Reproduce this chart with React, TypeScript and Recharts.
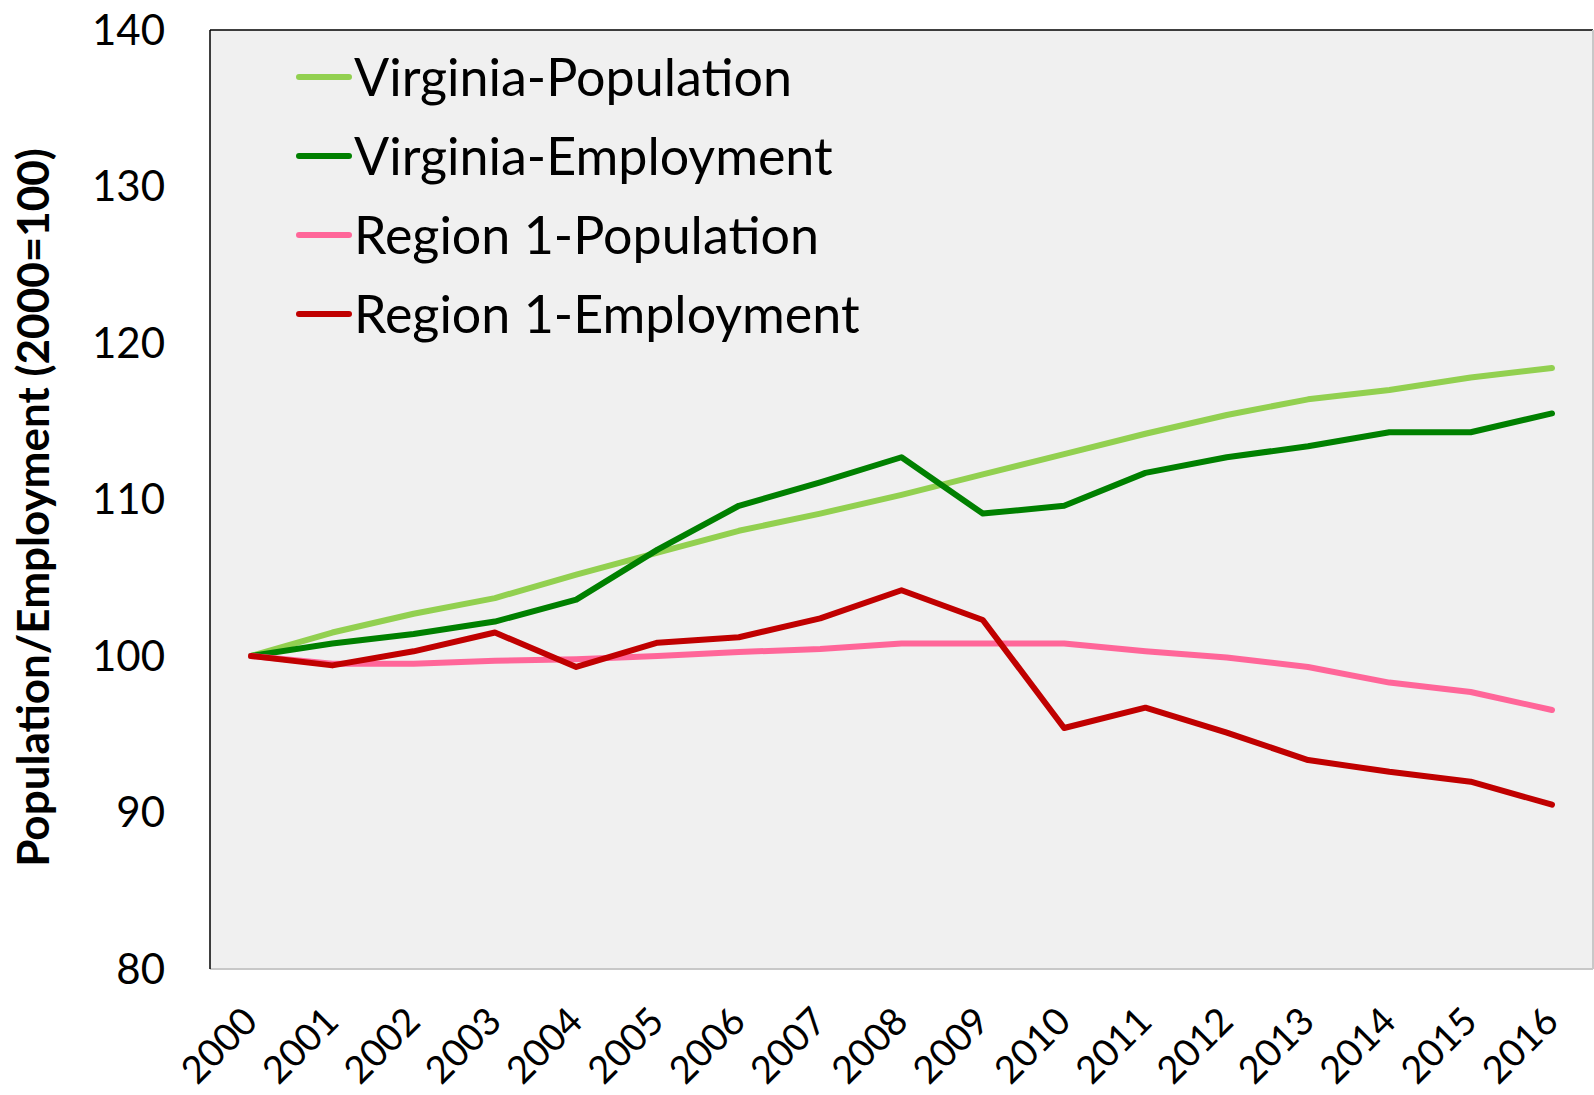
import React from "react";
import {
  LineChart,
  Line,
  XAxis,
  YAxis,
  CartesianGrid,
  Legend,
  ReferenceLine,
} from "recharts";

const years = [
  "2000", "2001", "2002", "2003", "2004", "2005", "2006", "2007", "2008",
  "2009", "2010", "2011", "2012", "2013", "2014", "2015", "2016",
];
const virginiaPopulation = [
  100, 101.5, 102.7, 103.7, 105.2, 106.6, 108.0, 109.1, 110.3, 111.6, 112.9,
  114.2, 115.4, 116.4, 117.0, 117.8, 118.4,
];
const virginiaEmployment = [
  100, 100.8, 101.4, 102.2, 103.6, 106.8, 109.6, 111.1, 112.7, 109.1, 109.6,
  111.7, 112.7, 113.4, 114.3, 114.3, 115.5,
];
const region1Population = [
  100, 99.5, 99.5, 99.7, 99.8, 100.0, 100.25, 100.45, 100.8, 100.8, 100.8,
  100.3, 99.9, 99.3, 98.3, 97.7, 96.55,
];
const region1Employment = [
  100, 99.4, 100.3, 101.5, 99.3, 100.85, 101.2, 102.4, 104.2, 102.3, 95.4,
  96.7, 95.1, 93.35, 92.6, 91.97, 90.5,
];
const yTicks = [80, 90, 100, 110, 120, 130, 140];

const series = [
  { key: "vaPop", name: "Virginia-Population", color: "#92d050" },
  { key: "vaEmp", name: "Virginia-Employment", color: "#008000" },
  { key: "r1Pop", name: "Region 1-Population", color: "#ff6699" },
  { key: "r1Emp", name: "Region 1-Employment", color: "#c00000" },
];

const data = years.map((year, i) => ({
  year,
  vaPop: virginiaPopulation[i],
  vaEmp: virginiaEmployment[i],
  r1Pop: region1Population[i],
  r1Emp: region1Employment[i],
}));

const FONT = "Lato, 'Open Sans', sans-serif";

const XTick = (props: any) => {
  const { x, y, payload } = props;
  return (
    <g transform={`translate(${x - 2},${y + 36})`}>
      <text
        textAnchor="end"
        dominantBaseline="central"
        transform="rotate(-45)"
        fontSize={38}
        fontFamily={FONT}
        fill="#000"
      >
        {payload.value}
      </text>
    </g>
  );
};

const LegendBox = () => (
  <div style={{ fontFamily: FONT, fontSize: 52, color: "#000", marginTop: -3 }}>
    {series.map((s) => (
      <div
        key={s.key}
        style={{ display: "flex", alignItems: "center", height: 79 }}
      >
        <svg width={56} height={10} style={{ marginLeft: 60, marginRight: 2 }}>
          <line
            x1={3}
            y1={5}
            x2={53}
            y2={5}
            stroke={s.color}
            strokeWidth={6}
            strokeLinecap="round"
          />
        </svg>
        <span style={{ lineHeight: "79px" }}>{s.name}</span>
      </div>
    ))}
  </div>
);

export default function App() {
  return (
    <div style={{ position: "absolute", left: 0, top: 0, background: "#fff" }}>
      <LineChart
        width={1594}
        height={1095}
        data={data}
        margin={{ top: 30, right: 0, bottom: 0, left: 0 }}
      >
        <CartesianGrid
          vertical={false}
          fill="#f0f0f0"
          stroke="#a6a6a6"
          strokeWidth={1.5}
          horizontalValues={[90, 100, 110, 120, 130]}
        />
        <XAxis
          dataKey="year"
          height={126}
          padding={{ left: 41, right: 41 }}
          tickLine={false}
          axisLine={{ stroke: "#c8c8c8", strokeWidth: 2 }}
          tick={<XTick />}
          interval={0}
        />
        <YAxis
          yAxisId="left"
          width={210}
          domain={[80, 140]}
          ticks={yTicks}
          tickLine={false}
          tickSize={0}
          tickMargin={45}
          axisLine={{ stroke: "#000", strokeWidth: 1.5 }}
          tick={{ fontSize: 42, fontFamily: FONT, fill: "#000" }}
          label={{
            content: (p: any) => {
              const vb = p.viewBox;
              const cy = vb.y + vb.height / 2 + 8;
              return (
                <text
                  x={32}
                  y={cy}
                  transform={`rotate(-90, 32, ${cy})`}
                  textAnchor="middle"
                  dominantBaseline="central"
                  fontSize={44}
                  fontWeight="bold"
                  fontFamily={FONT}
                  fill="#000"
                >
                  Population/Employment (2000=100)
                </text>
              );
            },
          }}
        />
        <YAxis
          yAxisId="right"
          orientation="right"
          width={1}
          domain={[80, 140]}
          ticks={yTicks}
          tick={false}
          tickLine={false}
          axisLine={{ stroke: "#c8c8c8", strokeWidth: 2 }}
        />
        <ReferenceLine yAxisId="left" y={140} stroke="#000" strokeWidth={1.5} />
        <Legend
          layout="vertical"
          align="center"
          verticalAlign="middle"
          content={<LegendBox />}
          wrapperStyle={{
            position: "absolute",
            left: 236,
            top: 40,
            width: 690,
            height: 310,
            background: "#f0f0f0",
            margin: 0,
          }}
        />
        {series.map((s) => (
          <Line
            key={s.key}
            yAxisId="left"
            type="linear"
            dataKey={s.key}
            name={s.name}
            stroke={s.color}
            strokeWidth={6}
            strokeLinecap="round"
            strokeLinejoin="round"
            dot={false}
            activeDot={false}
            isAnimationActive={false}
            legendType="line"
          />
        ))}
      </LineChart>
    </div>
  );
}
